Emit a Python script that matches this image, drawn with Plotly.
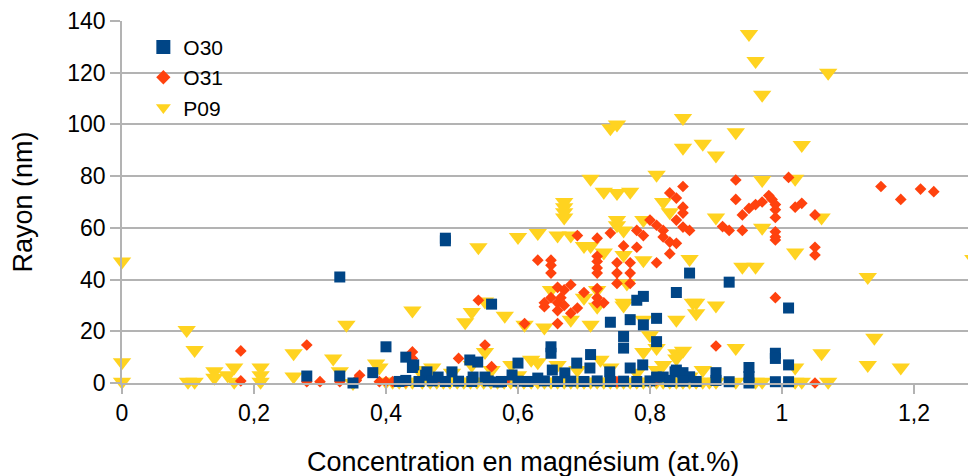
import plotly.graph_objects as go

# O30 (squares)
o30_x = [0.33, 0.49, 0.49, 0.56, 0.40, 0.43, 0.44, 0.28, 0.33, 0.35, 0.38, 0.43, 0.46,
         0.65, 0.65, 0.71, 0.74, 0.77, 0.79, 0.81, 0.81, 0.76, 0.76, 0.78, 0.79, 0.84,
         0.86, 0.92, 1.01, 0.99, 0.99, 1.01, 0.99, 1.01, 0.90, 0.90, 0.92, 0.95, 0.95,
         0.95, 0.84, 0.85, 0.86, 0.82, 0.83,
         0.442, 0.462, 0.479, 0.50, 0.527, 0.539, 0.532, 0.55, 0.57, 0.591, 0.60, 0.63,
         0.652, 0.671, 0.689, 0.709, 0.739, 0.77, 0.789, 0.81, 0.838, 0.86,
         0.42, 0.45, 0.47, 0.49, 0.51, 0.53, 0.555, 0.575, 0.60, 0.615, 0.64, 0.66,
         0.68, 0.70, 0.72, 0.74, 0.76, 0.78, 0.80, 0.83, 0.85, 0.87]
o30_y = [41, 56, 55, 30.5, 14, 10, 6, 2.7, 2.7, 0, 4, 1, 3,
         14, 11.5, 11, 23.5, 24.5, 22.5, 25, 16, 18, 13.5, 32, 33.5, 35,
         42.5, 39, 29, 11.5, 9.5, 7, 0.5, 0.5, 4, 1, 0.5, 6, 2.5,
         0, 5, 4, 2.3, 2.3, 1,
         7, 4.3, 2.3, 4.3, 8.9, 8.1, 2.3, 2.3, 0.4, 3.1, 7.7, 1.9,
         5, 3.9, 7.7, 5.8, 4.3, 5.8, 7, 2.3, 4.3, 2.3,
         0.6, 0.6, 0.8, 0.6, 0.7, 0.6, 0.8, 0.6, 0.7, 0.6, 0.8, 0.6,
         0.7, 0.6, 0.8, 0.6, 0.7, 0.6, 0.8, 0.6, 0.7, 0.6]

# O31 (diamonds)
o31_x = [0.18, 0.18, 0.28, 0.28, 0.30, 0.33, 0.36, 0.355, 0.39, 0.40, 0.41, 0.43,
         0.44, 0.44, 0.48, 0.51, 0.55, 0.56, 0.54, 0.61, 0.64, 0.66, 0.68, 0.66,
         0.72, 0.73, 0.63, 0.65, 0.65, 0.65, 0.69, 0.72, 0.74, 0.76, 0.78, 0.78,
         0.79, 0.80, 0.81, 0.82, 0.82, 0.83, 0.84, 0.83, 0.81, 0.83, 0.84, 0.85,
         0.85, 0.84, 0.85, 0.86, 0.85, 0.72, 0.72, 0.72, 0.72, 0.75, 0.75, 0.75,
         0.77, 0.77, 0.77, 0.66, 0.665, 0.67, 0.64, 0.65, 0.67, 0.68, 0.70, 0.69,
         0.66, 0.72, 0.72, 0.93, 0.93, 1.01, 0.94, 0.95, 0.96, 0.97, 0.98, 0.985,
         0.99, 0.99, 0.99, 1.02, 1.03, 1.05, 0.91, 0.92, 0.94, 0.99, 0.99, 0.99,
         1.05, 1.05, 0.99, 1.15, 1.18, 1.21, 1.23, 0.90, 1.05, 0.58, 0.75, 0.80, 0.81]
o31_y = [12.4, 0.8, 14.7, 0.5, 0.5, 0.5, 3, 1, 0.5, 0.5, 0.5, 0.5,
         12, 9.5, 2, 9.5, 14.7, 6.3, 32, 23, 29.5, 31, 27, 23,
         31, 31, 47.5, 47.5, 45.5, 42.5, 57, 56, 58, 53, 59, 52.5,
         57, 63, 61, 59, 56.5, 54.5, 54, 50, 46.5, 73.5, 71.5, 68,
         65.7, 63, 60.3, 59, 76, 49, 47, 44.5, 42.5, 46.5, 42.5, 38.5,
         46.5, 42.5, 38.5, 37, 33, 30, 31, 33, 36, 38, 35, 29,
         28, 36.5, 33, 78.5, 71, 79.5, 65, 67.5, 69, 70, 72.5, 71,
         69, 67, 64, 68, 69.5, 65, 60.5, 59, 59, 58.5, 56.5, 55.3,
         52.5, 49.5, 33, 76, 71, 75, 74, 14.3, 0, 0.5, 0.5, 0.5, 1]

# P09 (triangles)
p09_x = [0, 0, 0, 0.098, 0.11, 0.10, 0.11, 0.14, 0.14, 0.16, 0.17, 0.17, 0.21, 0.21,
         0.21, 0.26, 0.26, 0.32, 0.34, 0.33, 0.35, 0.385, 0.39, 0.44, 0.52, 0.53,
         0.54, 0.58, 0.61, 0.64, 0.68, 0.71, 0.72, 0.76, 0.79, 0.84, 0.865, 0.87,
         0.90, 0.80, 0.79, 0.81, 0.84, 0.85, 0.84, 0.62, 0.63, 0.725, 0.60, 0.63,
         0.66, 0.68, 0.67, 0.67, 0.67, 0.67, 0.71, 0.73, 0.75, 0.77, 0.81, 0.82,
         0.83, 0.75, 0.75, 0.76, 0.79, 0.90, 0.97, 1.02, 0.70, 0.71, 0.73, 0.76,
         0.79, 0.86, 0.94, 0.96, 0.65, 0.70, 0.72, 0.76, 0.765, 0.87, 0.74, 0.75,
         0.85, 0.85, 0.88, 0.90, 0.93, 0.95, 0.96, 0.97, 0.97, 1.02, 1.03, 1.06,
         1.07, 1.13, 1.14, 1.13, 1.18, 1.29, 0.93, 1.06, 1.02, 0.81, 0.86, 0.89,
         0.90, 0.93, 0.96, 0.97, 1.02, 1.03, 1.07, 0.55, 0.55,
         0.45, 0.47, 0.50, 0.53, 0.56, 0.59, 0.60, 0.66, 0.69, 0.74, 0.78, 0.82, 0.88,
         0.40, 0.41, 0.42, 0.43, 0.44, 0.455, 0.467, 0.477, 0.487, 0.497, 0.508,
         0.518, 0.528, 0.538, 0.548, 0.559, 0.569, 0.579, 0.589, 0.599, 0.609,
         0.62, 0.63, 0.64, 0.65, 0.66, 0.67, 0.68, 0.69, 0.70, 0.71, 0.72, 0.73,
         0.74, 0.75, 0.76, 0.77, 0.78, 0.79, 0.80, 0.81, 0.82, 0.83, 0.84, 0.85,
         0.86, 0.87, 0.88]
p09_y = [47, 8, 0.5, 20.5, 12.8, 0.5, 0.5, 4.5, 2, 3, 6, 0.5, 6, 3,
         0.5, 11.5, 2.5, 9.5, 22.5, 4.5, 0, 7.5, 6, 28, 23.5, 27.5,
         52.5, 26, 22.5, 21.5, 24.5, 22.5, 29.5, 30, 24.5, 24.5, 31, 27,
         30, 18.5, 12, 13.5, 11.5, 12.5, 9.5, 9, 8, 9, 56.5, 58,
         57, 57, 70, 68, 66, 64, 79, 74, 73.5, 74, 80.5, 70,
         66, 63, 61, 59, 63, 64, 60, 50.5, 53, 53, 50.5, 49.5,
         47.5, 48, 45, 45, 36, 33, 36, 31, 38.5, 31, 98.5, 100,
         102.5, 91, 92.5, 88, 97, 135, 124.5, 111.5, 78.5, 79, 92, 64,
         120, 41, 17.5, 7, 6, 48, 13.5, 11.5, 6, 5, 2.5, 0.5,
         0.5, 0.5, 0.5, 0.5, 0.5, 0.5, 0.5, 12, 31.5,
         5, 6, 4, 7, 5, 7, 3, 7, 5, 6, 4, 7, 5,
         0.5, 0.5, 0.5, 0.5, 0.5, 0.5, 0.5, 0.5, 0.5, 0.5, 0.5,
         0.5, 0.5, 0.5, 0.5, 0.5, 0.5, 0.5, 0.5, 0.5, 0.5,
         0.5, 0.5, 0.5, 0.5, 0.5, 0.5, 0.5, 0.5, 0.5, 0.5, 0.5, 0.5,
         0.5, 0.5, 0.5, 0.5, 0.5, 0.5, 0.5, 0.5, 0.5, 0.5, 0.5, 0.5,
         0.5, 0.5, 0.5]

x_ticks = [0, 0.2, 0.4, 0.6, 0.8, 1.0, 1.2]
x_labels = ["0", "0,2", "0,4", "0,6", "0,8", "1", "1,2"]

font = "Liberation Sans, Arial, sans-serif"
grid = "#b3b3b3"
colors = {"O30": "#004586", "O31": "#ff420e", "P09": "#ffd320"}

fig = go.Figure()
# drawn back to front: P09, O31, O30
fig.add_trace(go.Scatter(x=p09_x, y=p09_y, mode="markers", name="P09", cliponaxis=False,
                         showlegend=False,
                         marker=dict(symbol="triangle-down", size=16, color=colors["P09"],
                                     line=dict(width=0))))
fig.add_trace(go.Scatter(x=o31_x, y=o31_y, mode="markers", name="O31", cliponaxis=False,
                         showlegend=False,
                         marker=dict(symbol="diamond", size=9, color=colors["O31"],
                                     line=dict(width=0))))
fig.add_trace(go.Scatter(x=o30_x, y=o30_y, mode="markers", name="O30", cliponaxis=False,
                         showlegend=False,
                         marker=dict(symbol="square", size=11, color=colors["O30"],
                                     line=dict(width=0))))

# legend entries get bigger symbols, like the original
for name, sym, sz in [("O30", "square", 14), ("O31", "diamond", 11), ("P09", "triangle-down", 13)]:
    fig.add_trace(go.Scatter(x=[None], y=[None], mode="markers", name=name,
                             marker=dict(symbol=sym, size=sz, color=colors[name], line=dict(width=0))))

# page body adds an 8px offset, so the figure is 8px smaller and margins shifted
fig.update_layout(
    width=968, height=468,
    margin=dict(l=114, r=0, t=13, b=93, pad=0),
    paper_bgcolor="white", plot_bgcolor="white",
    font=dict(family=font, size=23, color="black"),
    showlegend=True,
    legend=dict(x=0.025, y=0.984, xanchor="left", yanchor="top",
                bgcolor="rgba(0,0,0,0)", font=dict(size=21), tracegroupgap=0),
    xaxis=dict(range=[0, 1.294], tickvals=x_ticks, ticktext=x_labels,
               showgrid=False, zeroline=False, showline=True, linecolor=grid, linewidth=1.5,
               ticks="outside", ticklen=9, tickwidth=1.5, tickcolor=grid,
               tickfont=dict(size=23), automargin=False),
    yaxis=dict(range=[0, 140], dtick=20, showgrid=True, gridcolor=grid, gridwidth=1.5,
               zeroline=False, showline=True, linecolor=grid, linewidth=1.5,
               ticks="outside", ticklen=10, tickwidth=1.5, tickcolor=grid,
               tickfont=dict(size=23),
               title=dict(text="Rayon (nm)", font=dict(size=27), standoff=28),
               automargin=False),
    annotations=[dict(text="Concentration en magnésium (at.%)", xref="paper", yref="paper",
                      x=0.470, y=-0.218, xanchor="center", yanchor="middle",
                      showarrow=False, font=dict(size=27))],
)

fig.write_html("out.html")
